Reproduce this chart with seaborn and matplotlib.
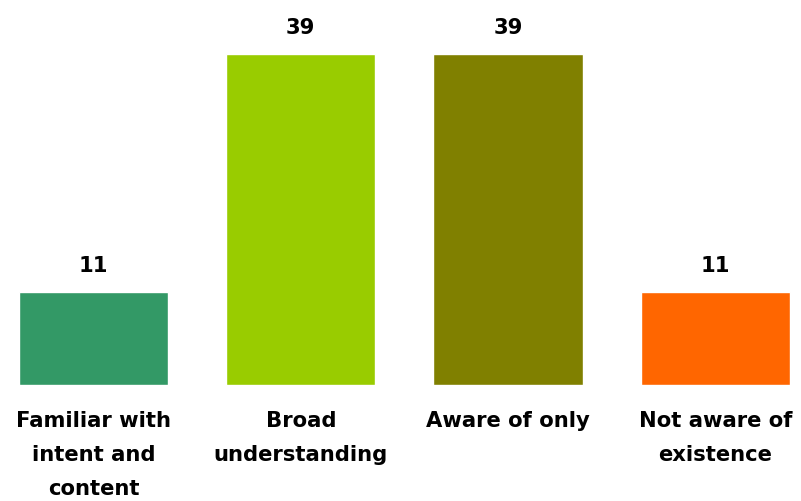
import matplotlib
matplotlib.use("Agg")
import matplotlib.pyplot as plt
import seaborn as sns
import pandas as pd

categories = ["Familiar with\nintent and\ncontent", "Broad\nunderstanding", "Aware of only", "Not aware of\nexistence"]
values = [11, 39, 39, 11]
colors = ["#339966", "#99CC00", "#808000", "#FF6600"]

sns.set_theme(style="white")
plt.rcParams['font.family'] = ['DejaVu Sans']

df = pd.DataFrame({"cat": categories, "val": values})

fig = plt.figure(figsize=(8.01, 5.01), dpi=100)
ax = fig.add_axes([0, (501 - 385) / 501, 1, 385 / 501])
sns.barplot(data=df, x="cat", y="val", hue="cat", palette=colors, legend=False,
            width=0.72, ax=ax, saturation=1)

spacing = 207.3
ax.set_xlim(-93.5 / spacing, (801 - 93.5) / spacing)
ax.set_ylim(0, 385 / 8.5)
for s in ax.spines.values():
    s.set_visible(False)
ax.set_yticks([])
ax.set_xlabel("")
ax.set_ylabel("")
ax.tick_params(axis="x", length=0, pad=19, colors="black")
for lab in ax.get_xticklabels():
    lab.set_fontsize(15.2)
    lab.set_fontweight("bold")
    lab.set_linespacing(1.85)
    lab.set_verticalalignment("top")
    lab.set_color("black")

for i, v in enumerate(values):
    ax.annotate(f"{v}", (i, v), xytext=(0, 13.7), textcoords="offset points",
                ha="center", va="baseline", fontsize=15.2, fontweight="bold", color="black")

fig.savefig("out.png", dpi=100)
